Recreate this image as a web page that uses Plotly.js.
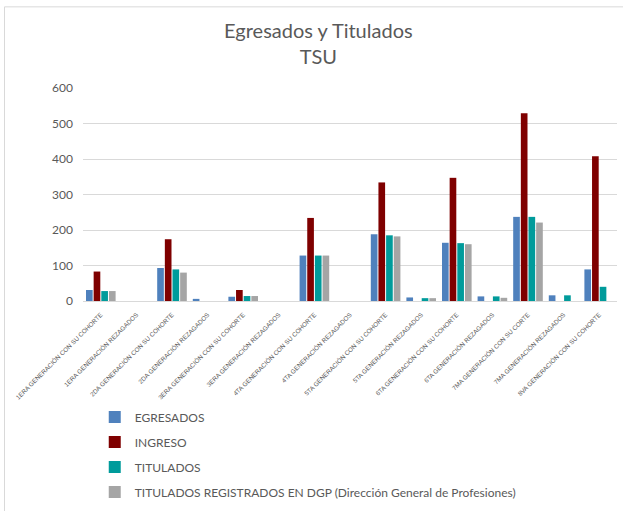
<!DOCTYPE html>
<html>
<head>
<meta charset="utf-8">
<script src="https://cdn.plot.ly/plotly-3.0.1.min.js"></script>
<style>html,body{margin:0;padding:0;background:#fff;}#chart{width:623px;height:511px;}</style>
</head>
<body>
<div id="chart"></div>
<script>
var categories = [
  "1ERA GENERACIÓN CON SU COHORTE",
  "1ERA GENERACIÓN REZAGADOS",
  "2DA GENERACIÓN CON SU COHORTE",
  "2DA GENERACIÓN REZAGADOS",
  "3ERA GENERACIÓN CON SU COHORTE",
  "3ERA GENERACIÓN REZAGADOS",
  "4TA GENERACIÓN CON SU COHORTE",
  "4TA GENERACIÓN REZAGADOS",
  "5TA GENERACIÓN CON SU COHORTE",
  "5TA GENERACIÓN REZAGADOS",
  "6TA GENERACIÓN CON SU COHORTE",
  "6TA GENERACIÓN REZAGADOS",
  "7MA GENERACIÓN CON SU CORTE",
  "7MA GENERACIÓN REZAGADOS",
  "8VA GENERACIÓN CON SU COHORTE"
];
var egresados = [31, 0, 93, 6, 12, 0, 128, 0, 188, 10, 164, 13, 237, 16, 89];
var ingreso   = [83, 0, 174, 0, 31, 0, 234, 0, 334, 0, 347, 0, 529, 0, 408];
var titulados = [28, 0, 89, 0, 14, 0, 128, 0, 185, 8, 163, 13, 237, 16, 40];
var registradosDGP = [28, 0, 80, 0, 14, 0, 128, 0, 182, 8, 160, 9, 221, 0, 0];

var seriesNames = [
  "EGRESADOS",
  "INGRESO",
  "TITULADOS",
  "TITULADOS REGISTRADOS EN DGP (Dirección General de Profesiones)"
];
var seriesValues = [egresados, ingreso, titulados, registradosDGP];
var seriesColors = ["#4F81BD", "#7F0000", "#009B9B", "#A5A5A5"];

var traces = seriesValues.map(function (vals, i) {
  return {
    type: "bar",
    name: seriesNames[i],
    x: categories,
    y: vals,
    legendgroup: "g" + i,
    marker: { color: seriesColors[i] },
    hoverinfo: "x+y+name"
  };
});

var FONT = "Lato, 'Liberation Sans', Arial, sans-serif";

var layout = {
  width: 623,
  height: 511,
  paper_bgcolor: "#ffffff",
  plot_bgcolor: "#ffffff",
  margin: { l: 83, r: 6, t: 88, b: 209 },
  barmode: "group",
  bargap: 0.14,
  bargroupgap: 0.13,
  font: { family: FONT, color: "#595959" },
  title: {
    text: "Egresados y Titulados<br>TSU",
    font: { family: FONT, size: 20, color: "#595959" },
    x: 0.511,
    xref: "container",
    xanchor: "center",
    y: 0.926,
    yref: "container",
    yanchor: "top"
  },
  xaxis: {
    type: "category",
    tickangle: -45,
    tickfont: { family: "'Liberation Sans', Arial, sans-serif", size: 6.3, color: "#595959" },
    showgrid: false,
    showline: false,
    ticks: "",
    ticklabelstandoff: 8,
    automargin: false,
    fixedrange: true
  },
  yaxis: {
    range: [0, 600],
    dtick: 100,
    tickfont: { family: FONT, size: 12, color: "#595959" },
    showgrid: true,
    gridcolor: "#D9D9D9",
    gridwidth: 1,
    zeroline: true,
    zerolinecolor: "#D9D9D9",
    zerolinewidth: 1,
    showline: false,
    ticks: "",
    ticklabelstandoff: 9,
    automargin: false,
    fixedrange: true
  },
  showlegend: true,
  legend: {
    orientation: "v",
    x: 0.022,
    xanchor: "left",
    y: -0.47,
    yanchor: "top",
    traceorder: "grouped",
    tracegroupgap: 6,
    font: { family: FONT, size: 12, color: "#595959" },
    bgcolor: "rgba(0,0,0,0)"
  },
  shapes: [{
    type: "rect",
    xref: "paper", yref: "paper",
    x0: -0.147, x1: 1.2,
    y0: -1.5, y1: 1.381,
    line: { color: "#D9D9D9", width: 1 },
    fillcolor: "rgba(0,0,0,0)",
    layer: "below"
  }]
};

Plotly.newPlot("chart", traces, layout, { displayModeBar: false, staticPlot: true });
</script>
</body>
</html>
